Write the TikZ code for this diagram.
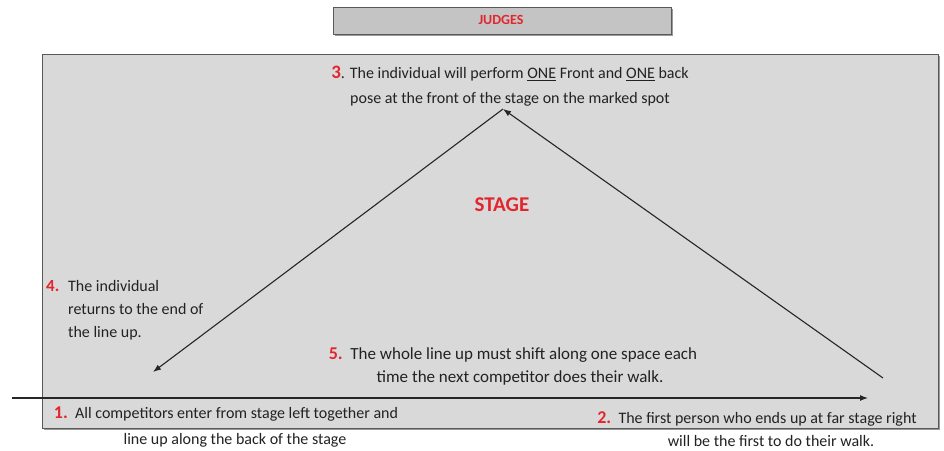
\documentclass[tikz,border=0pt]{standalone}
\usepackage{fontspec}
\setmainfont{Carlito}
\usetikzlibrary{arrows.meta}
\definecolor{stagefill}{HTML}{D9D9D9}
\definecolor{judgefill}{HTML}{C4C4C4}
\definecolor{edgegray}{HTML}{595959}
\definecolor{numred}{HTML}{E3262E}
\definecolor{txt}{HTML}{222222}
\tikzset{
  txtnode/.style={inner sep=0pt, text=txt, font=\fontsize{16}{24.5}\selectfont, align=center},
  arrowline/.style={draw=black!85, line width=1.1pt, -{Latex[length=8pt,width=6pt]}},
  shadowbox/.style={fill=black!40, draw=none}
}
\begin{document}
\begin{tikzpicture}[x=1pt,y=-1pt]
\useasboundingbox (0,0) rectangle (944,450);
\fill[white] (0,0) rectangle (944,450);
% judges box
\fill[shadowbox] (335,9) rectangle (673,36);
\node[draw=edgegray, line width=0.8pt, fill=judgefill, minimum width=338pt, minimum height=27pt, inner sep=0pt, anchor=north west] (judges) at (333,7) {};
\node[text=numred, font=\fontsize{14}{16}\selectfont\bfseries] (judgeslabel) at (501,20) {JUDGES};
% stage box
\fill[black!40] (44,56) rectangle (940,430);
\node[draw=edgegray, line width=1.3pt, fill=stagefill, minimum width=896pt, minimum height=374pt, inner sep=0pt, anchor=north west] (stage) at (42,54) {};
\node[text=numred, font=\fontsize{21}{24}\selectfont\bfseries] (stagelabel) at (502,205) {STAGE};
% texts
\node[txtnode] (t3) at (510,86) {{\color{numred}\fontsize{19}{20}\selectfont\bfseries 3}. The individual will perform \underline{ONE} Front and \underline{ONE} back\\pose at the front of the stage on the marked spot};
\node[txtnode, anchor=north west] (n4) at (46,280) {{\color{numred}\fontsize{17}{20}\selectfont\bfseries 4.}};
\node[txtnode, anchor=north west, align=left, font=\fontsize{16}{23}\selectfont] (t4) at (68,280) {The individual\\returns to the end of\\the line up.};
\node[txtnode, font=\fontsize{17}{23}\selectfont] (t5) at (513,366) {{\color{numred}\fontsize{18}{20}\selectfont\bfseries 5.}\ \ The whole line up must shift along one space each\\\hspace{14pt}time the next competitor does their walk.};
\node[txtnode, font=\fontsize{16}{26}\selectfont] (t1) at (226,427) {{\color{numred}\fontsize{18}{20}\selectfont\bfseries 1.}\ \ All competitors enter from stage left together and\\\hspace{18pt}line up along the back of the stage};
\node[txtnode, font=\fontsize{16}{23}\selectfont] (t2) at (757,429) {{\color{numred}\fontsize{18}{20}\selectfont\bfseries 2.}\ \ The first person who ends up at far stage right\\\hspace{28pt}will be the first to do their walk.};
% connectors
\coordinate (enter) at (12,398);
\coordinate (farright) at (868,398);
\coordinate (rightstart) at (883,378);
\coordinate (spot) at (503,109);
\coordinate (back) at (153,372);
\draw[arrowline] (enter) -- (farright);
\draw[arrowline] (rightstart) -- (spot);
\draw[arrowline] (spot) -- (back);
\end{tikzpicture}
\end{document}
